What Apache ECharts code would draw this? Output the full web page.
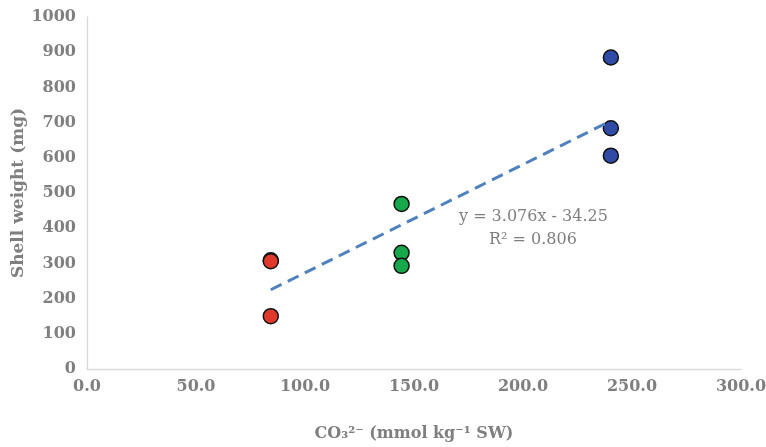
<!DOCTYPE html>
<html>
<head>
<meta charset="utf-8">
<script src="https://cdn.jsdelivr.net/npm/echarts@6/dist/echarts.min.js"></script>
<style>html,body{margin:0;padding:0;background:#fff}#c{width:766px;height:447px}</style>
</head>
<body>
<div id="c"></div>
<script>
// Data
const redPoints = [[84.3, 309], [84.3, 306], [84.3, 150]];
const greenPoints = [[144.3, 469], [144.3, 330], [144.3, 293]];
const bluePoints = [[240.3, 885], [240.3, 684], [240.3, 606]];
const trendSlope = 3.076;
const trendIntercept = -34.25;
const trendRangeX = [84.3, 240.3];
const xTicks = [0, 50, 100, 150, 200, 250, 300];
const yTicks = [0, 100, 200, 300, 400, 500, 600, 700, 800, 900, 1000];
const equationLines = ['y = 3.076x - 34.25', 'R² = 0.806'];

const trendData = trendRangeX.map(x => [x, trendSlope * x + trendIntercept]);

const font = 'DejaVu Serif';
const gray = '#7f7f7f';
const chart = echarts.init(document.getElementById('c'), null, {renderer: 'canvas'});
const marker = (color) => ({
  type: 'scatter',
  symbol: 'circle',
  symbolSize: 15,
  itemStyle: {color: color, opacity: 1, borderColor: '#111', borderWidth: 1.5},
  emphasis: {disabled: true},
  z: 3
});
chart.setOption({
  animation: false,
  grid: {left: 87, right: 25, top: 17, bottom: 78, containLabel: false, outerBoundsMode: 'none'},
  xAxis: {
    type: 'value', min: xTicks[0], max: xTicks[xTicks.length - 1], interval: xTicks[1] - xTicks[0],
    axisLine: {show: true, lineStyle: {color: '#d9d9d9', width: 1.3}},
    axisTick: {show: false},
    splitLine: {show: false},
    axisLabel: {color: gray, fontFamily: font, fontWeight: 'bold', fontSize: 16, margin: 10,
      formatter: v => v.toFixed(1)},
    name: 'CO₃²⁻ (mmol kg⁻¹ SW)',
    nameLocation: 'middle', nameGap: 57, nameMoveOverlap: false,
    nameTextStyle: {color: gray, fontFamily: font, fontWeight: 'bold', fontSize: 16}
  },
  yAxis: {
    type: 'value', min: yTicks[0], max: yTicks[yTicks.length - 1], interval: yTicks[1] - yTicks[0],
    axisLine: {show: true, lineStyle: {color: '#d9d9d9', width: 1.3}},
    axisTick: {show: false},
    splitLine: {show: false},
    axisLabel: {color: gray, fontFamily: font, fontWeight: 'bold', fontSize: 16, margin: 11,
      formatter: v => String(v)},
    name: 'Shell weight (mg)',
    nameLocation: 'middle', nameGap: 60, nameMoveOverlap: false,
    nameTextStyle: {color: gray, fontFamily: font, fontWeight: 'bold', fontSize: 17}
  },
  graphic: [{
    type: 'text', left: 459, top: 209,
    style: {text: equationLines[0], fill: gray, font: '16px "DejaVu Serif"'}
  }, {
    type: 'text', left: 489, top: 232,
    style: {text: equationLines[1], fill: gray, font: '16px "DejaVu Serif"'}
  }],
  series: [
    Object.assign(marker('#e0392b'), {data: redPoints}),
    Object.assign(marker('#16a84b'), {data: greenPoints}),
    Object.assign(marker('#2f4ba6'), {data: bluePoints}),
    {
      type: 'line', data: trendData, symbol: 'none', z: 4,
      lineStyle: {color: '#4f81bd', width: 3, type: [12, 7]}
    }
  ]
});
</script>
</body>
</html>
